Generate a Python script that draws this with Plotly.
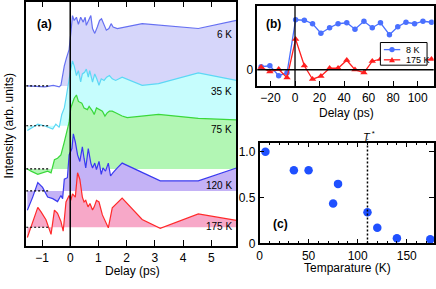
import plotly.graph_objects as go

# ---------------- data: panel (a) ----------------
delay_6K = [-1.52, -1.2, -0.9, -0.6, -0.39, -0.33, -0.21, -0.13, -0.04, 0.02, 0.08, 0.14, 0.22, 0.29, 0.37,
            0.46, 0.53, 0.57, 0.64, 0.73, 0.79, 0.87, 0.96, 1.04, 1.11, 1.20, 1.28, 1.37, 1.45, 1.52,
            1.67, 2.55, 3.54, 4.54, 5.89]
int_6K = [0, -0.5, -1, 0.5, -1, 0.6, 20.6, 29, 37.3, 54, 72.3, 67.3, 70.6, 63.3, 70.6,
          65.6, 70.6, 62.3, 67.3, 72.3, 59, 54, 60.6, 67.3, 69, 62.3, 57.3, 59, 64, 60.6,
          59, 64, 61.3, 59, 67.3]

delay_35K = [-1.52, -1.33, -1.15, -0.92, -0.74, -0.62, -0.51, -0.39, -0.30, -0.21, -0.15, -0.10, -0.04,
             0.02, 0.08, 0.14, 0.22, 0.29, 0.37, 0.43, 0.51, 0.57, 0.64, 0.69, 0.79, 0.87, 0.94, 1.02,
             1.10, 1.20, 1.29, 1.39, 1.49, 1.61, 1.84, 2.55, 3.13, 4.54, 5.89]
int_35K = [-5, -1.7, 1.6, 0, -1.7, -3.4, 1.6, -1.7, 11.6, 18.3, 28.3, 38.3, 48.3,
           58.3, 66.6, 61.6, 51.6, 56.6, 45, 53.3, 55, 58.3, 50, 56.6, 45, 53.3, 48.3, 41.6,
           48.3, 46.6, 50, 51.6, 48.3, 46.6, 50, 41.6, 43.3, 54.3, 46.6]

delay_75K = [-1.52, -1.39, -1.15, -0.98, -0.80, -0.68, -0.56, -0.45, -0.33, -0.21, -0.10, -0.04, 0.02,
             0.14, 0.22, 0.29, 0.41, 0.49, 0.61, 0.67, 0.79, 0.85, 0.93, 1.04, 1.14, 1.23, 1.31, 1.39,
             1.49, 1.61, 1.84, 2.02, 3.13, 4.54, 5.89]
int_75K = [0, -2.3, -5.6, -4, -2.3, -4, 9.4, 11, 14.4, 27.7, 42, 48, 62.7,
           72.7, 76, 69.4, 67.7, 62.7, 61, 64.4, 59.4, 56, 62.7, 61, 59.4, 54.4, 57.7, 59.4,
           59.4, 57.7, 54.4, 52.7, 56, 52, 50.4]

delay_120K = [-1.52, -1.33, -1.15, -0.98, -0.80, -0.62, -0.45, -0.33, -0.27, -0.21, -0.10, -0.04, 0.06,
              0.11, 0.18, 0.26, 0.34, 0.43, 0.49, 0.55, 0.64, 0.73, 0.79, 0.87, 0.93, 1.02, 1.10, 1.16,
              1.25, 1.35, 1.43, 1.51, 1.67, 1.84, 3.19, 4.54, 5.89]
int_120K = [-20, -6.4, 8.6, 3.6, -6.4, -8, -11, -4.7, -8, 12, 13.6, 37, 43.6,
            58.6, 50.3, 37, 30.3, 45.3, 33.6, 23.6, 43.6, 28.6, 23.6, 28.6, 22, 30.3, 17, 23.6,
            20.3, 28.6, 15.3, 18.6, 23.6, 28.6, 10.3, 10.3, 23.6]

delay_175K = [-1.52, -1.39, -1.15, -1.04, -0.86, -0.68, -0.56, -0.45, -0.33, -0.25, -0.15, -0.04, 0.02,
              0.08, 0.18, 0.26, 0.34, 0.43, 0.49, 0.55, 0.63, 0.70, 0.79, 0.85, 0.93, 1.02, 1.14, 1.35,
              1.49, 1.84, 2.55, 3.19, 4.54, 5.89]
int_175K = [-10.6, 1, 20.4, 16, 7.7, -7.3, 17.7, 14.4, 6, -4, 26, 32.7, 27.7,
            34.4, 31, 56, 49.4, 31, 26, 27.7, 21, 24.4, 17.7, 21, 27.7, 26, 12.7, -0.6,
            20, 30, 8, -1, 13.7, 7]

temps_a = ["6 K", "35 K", "75 K", "120 K", "175 K"]

# ---------------- data: panel (b) ----------------
delay_b = [-27.6, -20.5, -13.3, -6.5, 0.5, 7.6, 14.3, 21.1, 28.2, 35.1, 42.2, 48.9, 56.2, 63.0,
           69.7, 77.0, 83.8, 90.5, 97.5, 104.3, 111.3]
b_8K = [0.06, 0.08, -0.12, -0.06, 1.0, 0.99, 0.92, 0.73, 0.84, 0.92, 0.94, 0.81, 0.97, 0.84,
        0.94, 0.70, 0.86, 0.95, 0.92, 0.97, 0.95]
b_175K = [0.05, -0.04, 0.01, -0.16, 0.61, 0.08, -0.19, -0.13, 0.03, 0.03, 0.19, 0.0, -0.06, 0.17,
          0.21, 0.20, 0.22, 0.19, 0.23, 0.20, 0.21]

# ---------------- data: panel (c) ----------------
temp_c = [6, 35, 50, 75, 80, 110, 120, 140, 174]
frac_c = [1.0, 0.80, 0.80, 0.435, 0.65, 0.34, 0.17, 0.055, 0.045]
T_star = 110

# ---------------- styling / layout helpers ----------------
W, H = 436, 289
FONT = "Arial, 'Liberation Sans', sans-serif"
offsets = [164.7, 123.7, 79.3, 56.7, 19.3]
line_colors = ["#6670f2", "#5cd8f5", "#3ad83a", "#3a3af0", "#ff2a2a"]
fill_colors = ["#d6d6fa", "#c6fdfd", "#b2f6b4", "#c4b2f6", "#f7a8c8"]
label_y = [218, 159, 120, 62, 20]
series_a = [(delay_6K, int_6K), (delay_35K, int_35K), (delay_75K, int_75K),
            (delay_120K, int_120K), (delay_175K, int_175K)]

def px(x):
    return x / W

def py(y):
    return 1 - y / H

fig = go.Figure()

for (d, v), off, lc, fc in zip(series_a, offsets, line_colors, fill_colors):
    yv = [val + off for val in v]
    fig.add_trace(go.Scatter(x=d + [d[-1], d[0]], y=yv + [off, off], fill="toself",
                             fillcolor=fc, mode="lines", line=dict(width=0),
                             hoverinfo="skip", showlegend=False, xaxis="x", yaxis="y"))
    fig.add_trace(go.Scatter(x=d, y=yv, mode="lines", line=dict(color=lc, width=1.2),
                             showlegend=False, xaxis="x", yaxis="y"))

for off in offsets:
    fig.add_trace(go.Scatter(x=[-1.563, -0.74], y=[off, off], mode="lines",
                             line=dict(color="black", width=1.2, dash="2px,2px"),
                             showlegend=False, hoverinfo="skip", xaxis="x", yaxis="y"))

# panel (b)
fig.add_trace(go.Scatter(x=delay_b, y=b_8K, mode="lines+markers", name="8 K",
                         line=dict(color="#4a70ff", width=1.3),
                         marker=dict(symbol="circle", size=5.5, color="#4a70ff"),
                         showlegend=False, xaxis="x2", yaxis="y2"))
fig.add_trace(go.Scatter(x=delay_b, y=b_175K, mode="lines+markers", name="175 K",
                         line=dict(color="#ff1f1f", width=1.3),
                         marker=dict(symbol="triangle-up", size=6.5, color="#ff1f1f"),
                         showlegend=False, xaxis="x2", yaxis="y2"))

# panel (c)
fig.add_trace(go.Scatter(x=temp_c, y=frac_c, mode="markers",
                         marker=dict(size=8.5, color="#1f50ff"),
                         showlegend=False, xaxis="x3", yaxis="y3", cliponaxis=False))

axis_common = dict(showline=True, linecolor="black", linewidth=1.5, mirror=True,
                   showgrid=False, zeroline=False, ticks="inside", tickcolor="black",
                   tickfont=dict(size=12, color="black", family=FONT))

fig.update_layout(
    width=W, height=H, margin=dict(l=0, r=0, t=0, b=0),
    paper_bgcolor="white", plot_bgcolor="white",
    font=dict(family=FONT, color="black"),
    xaxis=dict(domain=[px(23.3), px(235)], range=[-1.563, 5.89], anchor="y",
               tickvals=[-1, 0, 1, 2, 3, 4, 5], ticklen=6, **{**axis_common, "mirror": "allticks"}),
    yaxis=dict(domain=[py(252), py(0.75)], range=[0, 251.25], anchor="x",
               showticklabels=False, **{**axis_common, "ticks": ""}),
    xaxis2=dict(domain=[px(256), px(433.7)], range=[-30.8, 113.1], anchor="y2",
                tickvals=[-20, 0, 20, 40, 60, 80, 100], ticklen=6, **axis_common),
    yaxis2=dict(domain=[py(87.7), py(5)], range=[-0.331, 1.278], anchor="x2",
                tickvals=[0], ticktext=["0"], **{**axis_common, "ticks": ""}),
    xaxis3=dict(domain=[px(258.3), px(433.7)], range=[0, 177.5], anchor="y3",
                tickvals=[0, 50, 100, 150], ticklen=5,
                minor=dict(dtick=10, tick0=0, ticks="inside", ticklen=3, tickcolor="black"),
                **{**axis_common, "mirror": "allticks"}),
    yaxis3=dict(domain=[py(249.3), py(145.7)], range=[0, 1.1], anchor="x3",
                tickvals=[0, 0.5, 1.0], ticktext=["0", "0.5", "1.0"], ticklen=5,
                **{**axis_common, "mirror": "allticks"}),
)

shapes = [
    dict(type="line", xref="x", yref="paper", x0=0, x1=0, y0=py(252), y1=py(0.75),
         line=dict(color="black", width=1.5), layer="above"),
    dict(type="line", xref="x2", yref="paper", x0=0, x1=0, y0=py(87.7), y1=py(5),
         line=dict(color="black", width=1.3), layer="above"),
    dict(type="line", xref="paper", yref="y2", x0=px(256), x1=px(433.7), y0=0, y1=0,
         line=dict(color="black", width=1.3), layer="above"),
    dict(type="line", xref="x3", yref="paper", x0=T_star, x1=T_star, y0=py(249.3), y1=py(142),
         line=dict(color="black", width=1.5, dash="2px,2px"), layer="above"),
    # manual legend for panel (b)
    dict(type="rect", xref="paper", yref="paper", x0=px(380), x1=px(427), y0=py(66), y1=py(42.7),
         line=dict(color="black", width=1), fillcolor="white", layer="above"),
    dict(type="line", xref="paper", yref="paper", x0=px(383.5), x1=px(400), y0=py(50), y1=py(50),
         line=dict(color="#4a70ff", width=1.3), layer="above"),
    dict(type="circle", xref="paper", yref="paper", x0=px(389), x1=px(394.4), y0=py(52.7), y1=py(47.3),
         line=dict(color="#4a70ff", width=0), fillcolor="#4a70ff", layer="above"),
    dict(type="line", xref="paper", yref="paper", x0=px(383.5), x1=px(400), y0=py(60.5), y1=py(60.5),
         line=dict(color="#ff1f1f", width=1.3), layer="above"),
    dict(type="path", xref="paper", yref="paper",
         path=f"M {px(388.7)},{py(63)} L {px(394.7)},{py(63)} L {px(391.7)},{py(57.5)} Z",
         line=dict(color="#ff1f1f", width=0), fillcolor="#ff1f1f", layer="above"),
]
fig.update_layout(shapes=shapes)

ann = []
for lab, yl in zip(temps_a, label_y):
    ann.append(dict(x=5.8, y=yl, xref="x", yref="y", text=lab, showarrow=False,
                    xanchor="right", yanchor="middle", font=dict(size=10, family=FONT)))
ann += [
    dict(x=px(32), y=py(24), xref="paper", yref="paper", text="<b>(a)</b>", showarrow=False,
         xanchor="left", yanchor="middle", font=dict(size=12, family=FONT)),
    dict(x=px(263), y=py(24), xref="paper", yref="paper", text="<b>(b)</b>", showarrow=False,
         xanchor="left", yanchor="middle", font=dict(size=12, family=FONT)),
    dict(x=px(270), y=py(229), xref="paper", yref="paper", text="<b>(c)</b>", showarrow=False,
         xanchor="left", yanchor="middle", font=dict(size=12, family=FONT)),
    dict(x=px(130), y=py(278), xref="paper", yref="paper", text="Delay (ps)", showarrow=False,
         xanchor="center", yanchor="middle", font=dict(size=12, family=FONT)),
    dict(x=px(346), y=py(115), xref="paper", yref="paper", text="Delay (ps)", showarrow=False,
         xanchor="center", yanchor="middle", font=dict(size=12, family=FONT)),
    dict(x=px(346.5), y=py(275), xref="paper", yref="paper", text="Temparature (K)", showarrow=False,
         xanchor="center", yanchor="middle", font=dict(size=12, family=FONT)),
    dict(x=px(7), y=py(128), xref="paper", yref="paper", text="Intensity (arb. units)", showarrow=False,
         textangle=-90, xanchor="center", yanchor="middle", font=dict(size=12, family=FONT)),
    dict(x=px(369), y=py(139), xref="paper", yref="paper", text="<i>T</i><sup> *</sup>", showarrow=False,
         xanchor="center", yanchor="middle", font=dict(size=11, family=FONT)),
    dict(x=px(403.5), y=py(50), xref="paper", yref="paper", text="8 K", showarrow=False,
         xanchor="left", yanchor="middle", font=dict(size=9, family=FONT)),
    dict(x=px(403.5), y=py(60.5), xref="paper", yref="paper", text="175 K", showarrow=False,
         xanchor="left", yanchor="middle", font=dict(size=9, family=FONT)),
]
fig.update_layout(annotations=ann)

fig.write_html("out.html", config={"displayModeBar": False},
               post_script="document.body.style.margin='0';document.body.style.padding='0';")
